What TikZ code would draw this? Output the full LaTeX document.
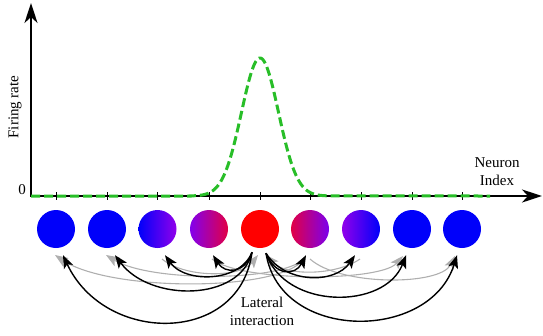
\documentclass[tikz,border=0pt]{standalone}
\usepackage{fontspec}
\setmainfont{Liberation Serif}
\usetikzlibrary{arrows.meta}
\definecolor{nblue}{RGB}{0,0,250}
\definecolor{npurple}{RGB}{145,0,235}
\definecolor{nred}{RGB}{255,0,0}
\definecolor{nmag}{RGB}{225,0,70}
\definecolor{ngreen}{RGB}{40,190,40}
\definecolor{ngray}{RGB}{175,175,175}
\tikzset{
  neuron/.style={circle, minimum size=38bp, inner sep=0pt},
  axisline/.style={line width=2.4bp, -{Stealth[length=20bp,width=13bp,inset=6bp]}},
  lbl/.style={font=\fontsize{15bp}{18bp}\selectfont, inner sep=0pt, align=center},
  lat/.style={line width=1.4bp, black, -{Stealth[length=13bp,width=10bp,inset=3bp]}},
  ghost/.style={line width=1.1bp, ngray, -{Stealth[length=13bp,width=10bp,inset=3bp]}},
  tick/.style={line width=0.8bp}
}
\begin{document}
\begin{tikzpicture}[x=1bp,y=-1bp]
\useasboundingbox (0,0) rectangle (543,335);
% axes
\coordinate (O) at (31,196);
\coordinate (ytop) at (31,3);
\coordinate (xend) at (542,196);
\draw[axisline] ([yshift=-1.2bp]O) -- (ytop);
\draw[axisline] ([xshift=-1.2bp]O) -- (xend);
% neurons
\node[neuron, fill=nblue] (n1) at (56,229) {};
\node[neuron, fill=nblue] (n2) at (107,229) {};
\node[neuron, left color=nblue, right color=npurple] (n3) at (157.5,229) {};
\node[neuron, left color=npurple!90!nblue, right color=nmag] (n4) at (209,229) {};
\node[neuron, fill=nred] (n5) at (260,229) {};
\node[neuron, left color=nmag, right color=npurple!85!nblue] (n6) at (310,229) {};
\node[neuron, left color=npurple, right color=nblue] (n7) at (361,229) {};
\node[neuron, fill=nblue] (n8) at (412,229) {};
\node[neuron, fill=nblue] (n9) at (462,229) {};
% ticks
\foreach \i in {1,...,9} {
  \draw[tick] (n\i |- O) ++(0,-4) -- ++(0,8);
}
% firing-rate curve
\draw[ngreen, line width=3bp, dash pattern=on 9bp off 4bp]
  (O) -- (190,196)
  -- plot[domain=190:330, samples=120] (\x, {196-138*exp(-0.5*((\x-260)/18.5)^2)})
  -- (490,196);
% labels
\node[lbl, rotate=90] (yl) at (15,107) {Firing rate};
\node[lbl] (zero) at (22,190) {0};
\node[lbl] (xl) at (497,172) {Neuron\\Index};
\node[lbl] (lat) at (262,311) {Lateral\\interaction};
% ghost (gray) interactions
\draw[ghost] (304,259) .. controls (280,292) and (110,292) .. (55,255);
\draw[ghost] (304,259) .. controls (280,282) and (150,282) .. (106,255);
\draw[ghost] (162,259) .. controls (185,278) and (240,278) .. (258,255);
\draw[ghost] (212,259) .. controls (240,282) and (380,282) .. (403,256);
\draw[ghost] (310,259) .. controls (340,286) and (440,286) .. (455,256);
\draw[ghost] (360,259) .. controls (335,276) and (285,276) .. (266,255);
% black lateral interactions from the active neuron
\draw[lat] ([xshift=-8bp,yshift=-4bp]n5.south) .. controls (240,345) and (105,345) .. ([xshift=7bp,yshift=-7bp]n1.south);
\draw[lat] ([xshift=-8bp,yshift=-4bp]n5.south) .. controls (240,302) and (150,302) .. ([xshift=8bp,yshift=-7bp]n2.south);
\draw[lat] ([xshift=-8bp,yshift=-4bp]n5.south) .. controls (240,283) and (185,283) .. ([xshift=7.5bp,yshift=-7bp]n3.south);
\draw[lat] ([xshift=-8bp,yshift=-4bp]n5.south) .. controls (245,274) and (225,274) .. ([xshift=4bp,yshift=-7bp]n4.south);
\draw[lat] ([xshift=6bp,yshift=-5bp]n5.south) .. controls (275,276) and (295,276) .. ([xshift=-4bp,yshift=-7bp]n6.south);
\draw[lat] ([xshift=6bp,yshift=-5bp]n5.south) .. controls (285,284) and (335,284) .. ([xshift=-6bp,yshift=-7bp]n7.south);
\draw[lat] ([xshift=6bp,yshift=-5bp]n5.south) .. controls (285,310) and (385,310) .. ([xshift=-6bp,yshift=-7bp]n8.south);
\draw[lat] ([xshift=6bp,yshift=-5bp]n5.south) .. controls (280,342) and (430,342) .. ([xshift=-5bp,yshift=-7bp]n9.south);
\end{tikzpicture}
\end{document}
